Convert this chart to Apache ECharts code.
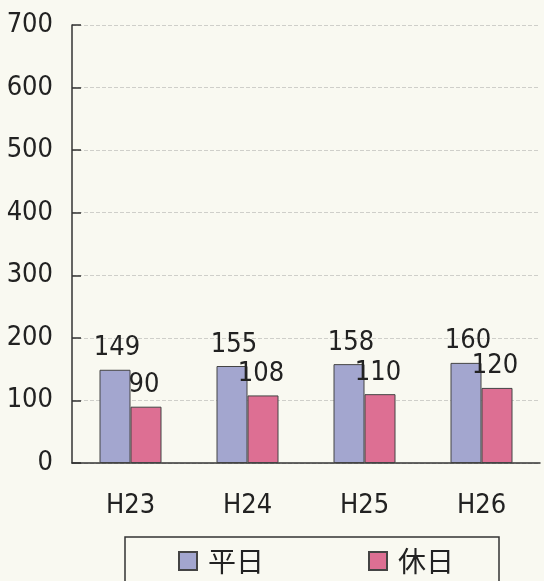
<!DOCTYPE html>
<html><head><meta charset="utf-8">
<script src="https://cdn.jsdelivr.net/npm/echarts@6/dist/echarts.min.js"></script>
<style>html,body{margin:0;padding:0;background:#f9f9f1;}#c{width:544px;height:581px;}</style>
</head><body><div id="c"></div>
<script>
const categories = ['H23', 'H24', 'H25', 'H26'];
const weekday = [149, 155, 158, 160];
const holiday = [90, 108, 110, 120];
const yTicks = [0, 100, 200, 300, 400, 500, 600, 700];
const seriesNames = ['平日', '休日'];

const FONT = '"Liberation Sans Narrow", "DejaVu Sans Condensed", "Roboto Condensed", sans-serif';
const chart = echarts.init(document.getElementById('c'));
chart.setOption({
  backgroundColor: '#f9f9f1',
  animation: false,
  grid: { left: 72, right: 4, top: 25, bottom: 118 },
  legend: {
    data: seriesNames,
    left: 125, top: 537,
    padding: [10, 45, 20, 53],
    itemGap: 104,
    itemWidth: 18, itemHeight: 18,
    icon: 'rect',
    borderColor: '#333', borderWidth: 1.5,
    textStyle: { fontSize: 28, color: '#222', padding: [0, 0, 0, 6], fontFamily: '"Noto Sans CJK JP", sans-serif' }
  },
  xAxis: {
    type: 'category', data: categories,
    axisLine: { lineStyle: { color: '#333', width: 1.5 } },
    axisTick: { inside: true, length: 6, lineStyle: { color: '#333', width: 1.5 } },
    axisLabel: { fontSize: 27, color: '#222', margin: 29, fontFamily: FONT }
  },
  yAxis: {
    type: 'value', min: 0, max: 700, interval: 100,
    axisLine: { show: true, lineStyle: { color: '#333', width: 1.5 } },
    axisTick: { show: true, inside: true, length: 9, lineStyle: { color: '#333', width: 1.5 } },
    axisLabel: { fontSize: 27, color: '#222', margin: 19, fontFamily: FONT,
      formatter: v => yTicks.includes(v) ? String(v) : '' },
    splitLine: { show: true, lineStyle: { color: '#cfcfca', type: 'dashed', width: 1 } }
  },
  series: [
    { name: seriesNames[0], type: 'bar', data: weekday, barWidth: 31, barGap: '0%',
      itemStyle: { color: '#a3a6cf', borderColor: '#444', borderWidth: 1 },
      label: { show: true, position: 'top', distance: 8, fontSize: 27, color: '#222', fontFamily: FONT, offset: [2, 0] } },
    { name: seriesNames[1], type: 'bar', data: holiday, barWidth: 31,
      itemStyle: { color: '#dd6f93', borderColor: '#444', borderWidth: 1 },
      label: { show: true, position: 'top', distance: 8, fontSize: 27, color: '#222', fontFamily: FONT, offset: [-2, 0] } }
  ]
});
</script></body></html>
